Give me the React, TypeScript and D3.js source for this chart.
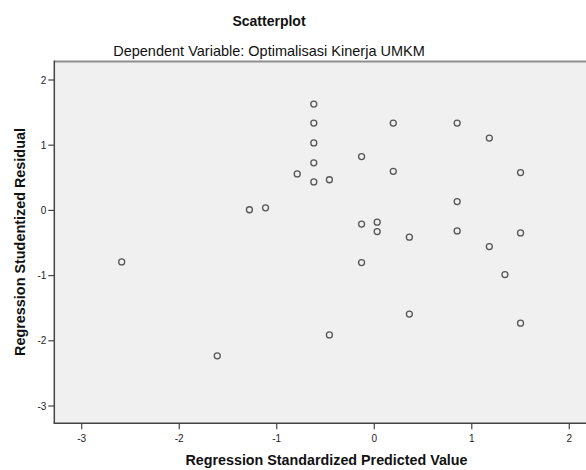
import React from "react";
import * as d3 from "d3";

const predicted: number[] = [
  -2.59, -1.61, -1.28, -1.115, -0.79,
  -0.62, -0.62, -0.62, -0.62, -0.62,
  -0.46, -0.46,
  -0.13, -0.13, -0.13,
  0.03, 0.03,
  0.195, 0.195,
  0.36, 0.36,
  0.85, 0.85, 0.85,
  1.18, 1.18,
  1.34,
  1.5, 1.5, 1.5,
];
const residual: number[] = [
  -0.79, -2.23, 0.01, 0.04, 0.56,
  1.63, 1.34, 1.035, 0.73, 0.437,
  0.47, -1.91,
  0.825, -0.21, -0.8,
  -0.18, -0.325,
  1.34, 0.6,
  -0.41, -1.59,
  1.34, 0.135, -0.315,
  1.11, -0.555,
  -0.985,
  0.58, -0.345, -1.73,
];
const xTicks: number[] = [-3, -2, -1, 0, 1, 2];
const yTicks: number[] = [2, 1, 0, -1, -2, -3];

const title = "Scatterplot";
const subtitle = "Dependent Variable: Optimalisasi Kinerja UMKM";
const xTitle = "Regression Standardized Predicted Value";
const yTitle = "Regression Studentized Residual";

export default function App() {
  const W = 586;
  const H = 470;
  const x = d3.scaleLinear().domain([-3, 2]).range([81.7, 569.3]);
  const y = d3.scaleLinear().domain([-3, 2]).range([406, 80]);
  const left = x(-3.281);
  const right = x(2.297);
  const top = y(2.284);
  const bottom = y(-3.266);
  const font = "'Liberation Sans', Arial, sans-serif";
  const pts = predicted.map((p, i) => ({ p, r: residual[i] }));

  return (
    <svg width={W} height={H} style={{ position: "absolute", left: 0, top: 0, background: "#fff" }} fontFamily={font}>
      <rect x={left} y={top} width={right - left} height={bottom - top} fill="#f0f0f0" />
      <line x1={left} x2={right} y1={top} y2={top} stroke="#8e8e8e" strokeWidth={2} />
      <line x1={left} x2={left} y1={top - 1} y2={bottom} stroke="#444" strokeWidth={1.5} />
      <line x1={left - 0.75} x2={right} y1={bottom} y2={bottom} stroke="#444" strokeWidth={1.5} />
      {yTicks.map((t) => (
        <g key={"y" + t}>
          <line x1={left - 6} x2={left} y1={y(t)} y2={y(t)} stroke="#444" strokeWidth={1.2} />
          <text x={left - 8} y={y(t)} dy="0.35em" textAnchor="end" fontSize={10} fill="#222">
            {t}
          </text>
        </g>
      ))}
      {xTicks.map((t) => (
        <g key={"x" + t}>
          <line x1={x(t)} x2={x(t)} y1={bottom} y2={bottom + 6} stroke="#444" strokeWidth={1.2} />
          <text x={x(t)} y={442} textAnchor="middle" fontSize={10} fill="#222">
            {t}
          </text>
        </g>
      ))}
      {pts.map((d, i) => (
        <circle key={i} cx={x(d.p)} cy={y(d.r)} r={3} fill="none" stroke="#555" strokeWidth={1.3} />
      ))}
      <text x={269} y={26} textAnchor="middle" fontSize={14} fontWeight="bold" fill="#111">
        {title}
      </text>
      <text x={269} y={56} textAnchor="middle" fontSize={14.5} fill="#111">
        {subtitle}
      </text>
      <text x={326.5} y={465} textAnchor="middle" fontSize={14.3} fontWeight="bold" fill="#111">
        {xTitle}
      </text>
      <text
        transform={`translate(25,242) rotate(-90)`}
        textAnchor="middle"
        fontSize={14.4}
        fontWeight="bold"
        fill="#111"
      >
        {yTitle}
      </text>
    </svg>
  );
}
